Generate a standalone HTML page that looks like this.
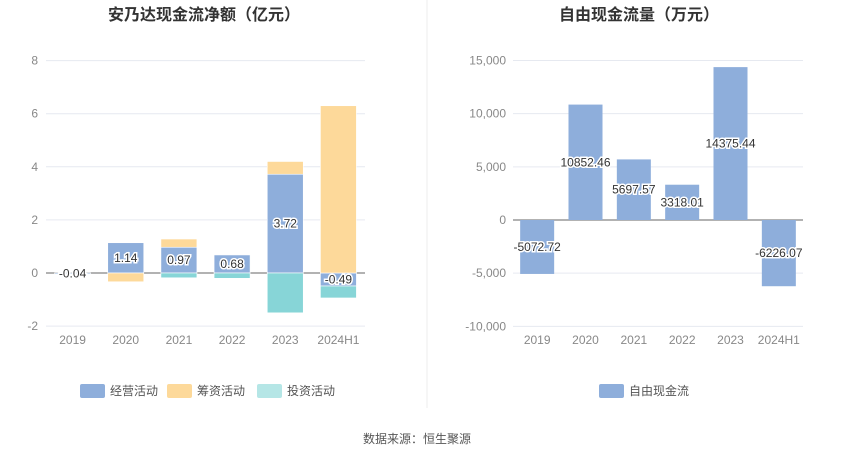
<!DOCTYPE html>
<html><head><meta charset="utf-8"><style>
body{margin:0;width:850px;height:459px;background:#fff;font-family:"Liberation Sans","Noto Sans CJK SC",sans-serif;overflow:hidden}
svg text{font-family:"Liberation Sans","Noto Sans CJK SC",sans-serif}
</style></head><body>
<svg id="s" width="850" height="459">
<text x="204" y="20" text-anchor="middle" font-size="16" font-weight="bold" fill="#333">安乃达现金流净额（亿元）</text>
<text x="639" y="20" text-anchor="middle" font-size="16" font-weight="bold" fill="#333">自由现金流量（万元）</text>
<line x1="427" y1="0" x2="427" y2="408" stroke="#eee"/>
<text x="417" y="443" text-anchor="middle" font-size="12" fill="#555">数据来源：恒生聚源</text>
<g id="L"></g><g id="R"></g>
<g>
<g><rect x="80" y="384" width="25" height="14" rx="2" fill="#8eaedb"/><text x="110" y="395" font-size="12" fill="#555">经营活动</text></g>
<g><rect x="167" y="384" width="25" height="14" rx="2" fill="#fdd99a"/><text x="197" y="395" font-size="12" fill="#555">筹资活动</text></g>
<g><rect x="257" y="384" width="25" height="14" rx="2" fill="#b5e6e6"/><text x="287" y="395" font-size="12" fill="#555">投资活动</text></g>
</g>
<g><rect x="599" y="384" width="25" height="14" rx="2" fill="#8eaedb"/><text x="629" y="395" font-size="12" fill="#555">自由现金流</text></g>
</svg>
<script>
const cats=["2019","2020","2021","2022","2023","2024H1"];
const operating=[-0.04,1.14,0.97,0.68,3.72,-0.49];
const financing=[0,-0.33,0.31,0,0.48,6.3];
const investing=[0,0,-0.18,-0.2,-1.5,-0.45];
const leftTicks=[-2,0,2,4,6,8];
const fcf=[-5072.72,10852.46,5697.57,3318.01,14375.44,-6226.07];
const rightTicks=[-10000,-5000,0,5000,10000,15000];
const NS="http://www.w3.org/2000/svg";
function mk(p,t,a){const e=document.createElementNS(NS,t);for(const k in a)e.setAttribute(k,a[k]);p.appendChild(e);return e;}
function lbl(g,x,y,t){const e=mk(g,"text",{x:x,y:y,"text-anchor":"middle","font-size":12,fill:"#333",stroke:"#fff","stroke-width":3,"paint-order":"stroke"});e.textContent=t;

}
const L=document.getElementById("L");
const lx0=46,lx1=365,ly=v=>273-v*26.55,bw=(lx1-lx0)/cats.length;
leftTicks.forEach(t=>{const y=ly(t);
const gl=mk(L,"line",{x1:lx0,x2:lx1,y1:y,y2:y,stroke:t===0?"#666":"#e6e9f0"});


const tx=mk(L,"text",{x:38,y:y+4,"text-anchor":"end","font-size":12,fill:"#888"});tx.textContent=t;

});
const cols=["#8eaedb","#fdd99a","#87d5d7"];
cats.forEach((c,i)=>{const cx=lx0+bw*(i+0.5);let pos=0,neg=0;
[operating,financing,investing].forEach((s,k)=>{const v=s[i];if(!v)return;let a,b;if(v>0){a=pos;pos+=v;b=pos;}else{a=neg;neg+=v;b=neg;}
const r=mk(L,"rect",{x:cx-18,y:Math.min(ly(a),ly(b)),width:36,height:Math.abs(ly(a)-ly(b)),fill:cols[k],stroke:"#fff","stroke-width":0.6});

});
const tx=mk(L,"text",{x:cx,y:344,"text-anchor":"middle","font-size":12,fill:"#888"});tx.textContent=c;


const v=operating[i];lbl(L,cx,ly(v/2)+4,v.toFixed(2));});
const R=document.getElementById("R");
const rx0=513,rx1=803,ry=v=>220-v*0.010635,rw=(rx1-rx0)/cats.length;
rightTicks.forEach(t=>{const y=ry(t);
const gl=mk(R,"line",{x1:rx0,x2:rx1,y1:y,y2:y,stroke:t===0?"#666":"#e6e9f0"});


const tx=mk(R,"text",{x:506,y:y+4,"text-anchor":"end","font-size":12,fill:"#888"});tx.textContent=t.toLocaleString("en-US");

});
cats.forEach((c,i)=>{const cx=rx0+rw*(i+0.5),v=fcf[i];
const r=mk(R,"rect",{x:cx-17,y:Math.min(ry(0),ry(v)),width:34,height:Math.abs(ry(v)-ry(0)),fill:"#8eaedb"});


const tx=mk(R,"text",{x:cx,y:344,"text-anchor":"middle","font-size":12,fill:"#888"});tx.textContent=c;


lbl(R,cx,ry(v/2)+4,v.toFixed(2));});
</script>
</body></html>
